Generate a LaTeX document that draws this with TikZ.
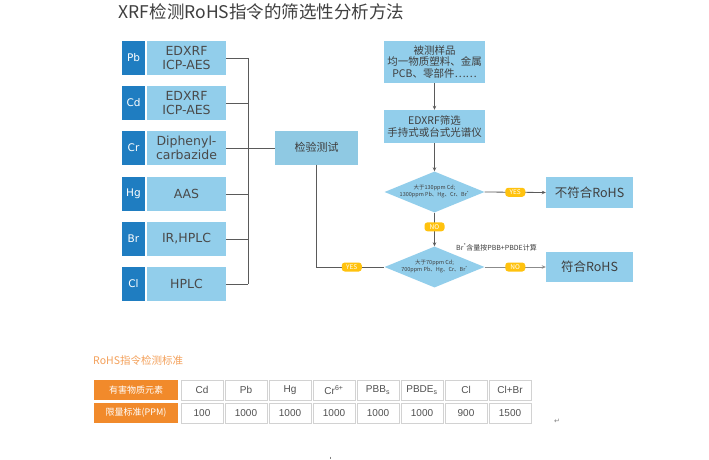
\documentclass[tikz,border=0pt]{standalone}
\usepackage{fontspec}
\setmainfont{Noto Sans CJK SC}
\newfontfamily\tabfont{Liberation Sans}
\newfontfamily\symfont{DejaVu Sans}
\newfontfamily\widefont{DejaVu Sans}
\usetikzlibrary{shapes.geometric,arrows.meta}
\definecolor{lblue}{HTML}{92CEEB}
\definecolor{dblue}{HTML}{1F7DC1}
\definecolor{tblue}{HTML}{8FC9E3}
\definecolor{txt}{HTML}{3F3F3F}
\definecolor{btxt}{HTML}{4A4A4A}
\definecolor{ylw}{HTML}{FFC20E}
\definecolor{orng}{HTML}{F18A2B}
\definecolor{lorng}{HTML}{F4A15B}
\definecolor{cellb}{HTML}{D2D2D2}
\definecolor{linec}{HTML}{5A5A5A}
\definecolor{celltxt}{HTML}{505050}
\tikzset{
  elbox/.style={fill=dblue, text=white, minimum width=23, minimum height=34, inner sep=0, font=\widefont\fontsize{10.5}{12}\selectfont},
  mbox/.style={fill=lblue, text=btxt, minimum width=79, minimum height=34, inner sep=0, align=center, font=\widefont\fontsize{12.5}{14}\selectfont},
  rbox/.style={fill=lblue, text=txt, minimum width=101, inner sep=0, align=center, font=\fontsize{10.5}{12.5}\selectfont},
  resbox/.style={fill=lblue, text=txt, minimum width=87, inner sep=0, align=center, font=\fontsize{12.5}{14}\selectfont},
  dia/.style={diamond, fill=lblue, inner sep=0, minimum width=100, minimum height=41},
  diatxt/.style={text=txt, align=center, inner sep=0, font=\fontsize{5.5}{7}\selectfont},
  yl/.style={fill=ylw, rounded corners=3, text=white, inner sep=0, minimum width=20, minimum height=9, font=\fontsize{6.5}{6.5}\selectfont},
  tree/.style={draw=linec, line width=0.9},
  arr/.style={draw=linec, line width=0.8, -{Stealth[length=4pt,width=3.5pt]}},
  hcell/.style={fill=orng, text=white, minimum width=84, minimum height=20, inner sep=0, font=\fontsize{9}{10}\selectfont},
  dcell/.style={fill=white, draw=cellb, line width=0.8, text=celltxt, minimum width=42, minimum height=20, inner sep=0, font=\tabfont\fontsize{10}{11}\selectfont},
}
\begin{document}
\begin{tikzpicture}[x=1pt,y=-1pt]
\useasboundingbox[fill=white] (0,0) rectangle (709,460);
% title
\node[text=txt, font=\fontsize{17.5}{20}\selectfont, inner sep=0] (title) at (261.5,12) {XRF检测RoHS指令的筛选性分析方法};
% left column
\node[elbox] (e1) at (133.5,58) {Pb};
\node[mbox]  (m1) at (186.5,58) {EDXRF\\ICP-AES};
\node[elbox] (e2) at (133.5,103) {Cd};
\node[mbox]  (m2) at (186.5,103) {EDXRF\\ICP-AES};
\node[elbox] (e3) at (133.5,148) {Cr};
\node[mbox]  (m3) at (186.5,148) {Diphenyl-\\carbazide};
\node[elbox] (e4) at (133.5,194) {Hg};
\node[mbox]  (m4) at (186.5,194) {AAS};
\node[elbox] (e5) at (133.5,239) {Br};
\node[mbox]  (m5) at (186.5,239) {IR,HPLC};
\node[elbox] (e6) at (133.5,284) {Cl};
\node[mbox]  (m6) at (186.5,284) {HPLC};
\coordinate (tt) at (248,58);
\coordinate (tb) at (248,284);
\node[fill=tblue, text=txt, minimum width=83, minimum height=34, inner sep=0, font=\fontsize{11}{12}\selectfont] (test) at (316.5,147.5) {检验测试};
\draw[tree] (tt) -- (tb);
\foreach \i in {1,2,4,5,6} { \draw[tree] (m\i.east) -- (m\i.east -| tt); }
\draw[tree] (m3.east) -- (m3.east -| test.west);
% right column
\node[rbox, minimum height=42] (s1) at (434.5,62) {被测样品\\[-1pt]均一物质塑料、金属\\[-1pt]PCB、零部件……};
\node[rbox, minimum height=33] (s2) at (434.5,126.5) {EDXRF筛选\\手持式或台式光谱仪};
\node[dia] (d1) at (434.5,192) {};
\node[diatxt] (d1t) at (434.5,191.5) {大于130ppm Cd;\\1300ppm Pb、Hg、Cr、Br\textsuperscript{*}};
\node[dia] (d2) at (434.5,267) {};
\node[diatxt] (d2t) at (434.5,266.5) {大于70ppm Cd;\\700ppm Pb、Hg、Cr、Br\textsuperscript{*}};
\node[resbox, minimum height=31] (r1) at (589.5,192.5) {不符合RoHS};
\node[resbox, minimum height=30] (r2) at (589.5,267) {符合RoHS};
\node[anchor=west, text=txt, inner sep=0, font=\fontsize{7}{8}\selectfont] (note) at (456,247) {Br\textsuperscript{*}含量按PBB+PBDE计算};
\draw[arr] (s1.south) -- (s2.north);
\draw[arr] (s2.south) -- (d1.north);
\draw[arr] (d1.south) -- (d2.north) node[yl, pos=0.42] (no1) {NO};
\draw[arr] (d1.east) -- (r1.west) node[yl, pos=0.5] (yes1) {YES};
\draw[arr, draw=linec!70] (d2.east) -- (r2.west) node[yl, pos=0.5] (no2) {NO};
\draw[tree] (test.south) |- (d2.west) node[yl, pos=0.76] (yes2) {YES};
% table
\node[anchor=west, text=lorng, inner sep=0, font=\fontsize{10.5}{12}\selectfont] (ttitle) at (93,360) {RoHS指令检测标准};
\node[hcell] (h1) at (136,390) {有害物质元素};
\node[hcell] (h2) at (136,413) {限量标准(PPM)};
\foreach \i/\a/\b in {0/Cd/100, 1/Pb/1000, 2/Hg/1000, 3/{Cr\textsuperscript{6+}}/1000, 4/{PBB\textsubscript{s}}/1000, 5/{PBDE\textsubscript{s}}/1000, 6/Cl/900, 7/Cl+Br/1500} {
  \node[dcell] (a\i) at (202+44*\i,390) {\a};
  \node[dcell] (b\i) at (202+44*\i,413) {\b};
}
\node[text=gray, inner sep=0, font=\symfont\fontsize{7}{8}\selectfont] (ret) at (557,421) {↵};
\draw[gray, line width=0.6] (330,456.5) -- (330,459);
\end{tikzpicture}
\end{document}
